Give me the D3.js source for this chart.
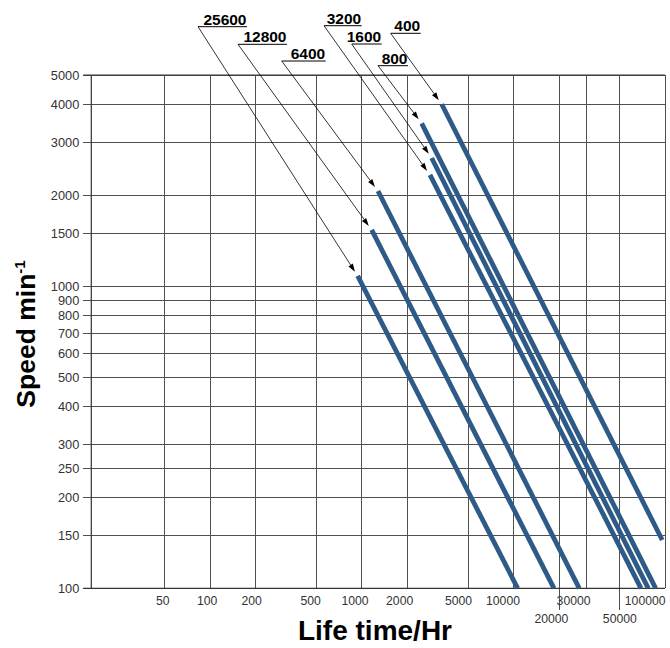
<!DOCTYPE html>
<html>
<head>
<meta charset="utf-8">
<script src="https://cdn.jsdelivr.net/npm/d3@7"></script>
<style>
  html, body { margin: 0; padding: 0; background: #fff; }
  svg { display: block; }
  text { font-family: "Liberation Sans", Arial, Helvetica, sans-serif; }
</style>
</head>
<body>
<script>
// ---------------- data ----------------
const loads      = ["400", "800", "1600", "3200", "6400", "12800", "25600"];
const lifeStart  = [3380, 2494, 2902, 2828, 1285, 1168, 944];
const speedStart = [4000, 3460, 2657, 2334, 2066, 1535, 1081];
const lifeEnd    = [95900, 86850, 77600, 69470, 27240, 18560, 10700];
const speedEnd   = [144.5, 100, 100, 100, 100, 100, 100];

const xTicks      = [50, 100, 200, 500, 1000, 2000, 5000, 10000, 20000, 30000, 50000, 100000];
const xTickLabels = ["50", "100", "200", "500", "1000", "2000", "5000", "10000", "20000", "30000", "50000", "100000"];
const xLowRow     = [20000, 50000];
const yTicks      = [100, 150, 200, 250, 300, 400, 500, 600, 700, 800, 900, 1000, 1500, 2000, 3000, 4000, 5000];
const yTickLabels = ["100", "150", "200", "250", "300", "400", "500", "600", "700", "800", "900", "1000", "1500", "2000", "3000", "4000", "5000"];

const xTitle = "Life time/Hr";
const yTitle = "Speed min";
const yTitleSup = "-1";

// ---------------- layout ----------------
const W = 670, H = 648;
const plot = { left: 91.3, right: 665, top: 75, bottom: 588.3 };
// callout label placement (underline left/right, underline y)
const calloutLayout = {
  "25600": { x0: 198,   x1: 247,   y: 26.7 },
  "12800": { x0: 238,   x1: 287,   y: 44.3 },
  "6400":  { x0: 281.7, x1: 325.7, y: 61 },
  "3200":  { x0: 324,   x1: 361.7, y: 25.7 },
  "1600":  { x0: 351.7, x1: 381.7, y: 44 },
  "800":   { x0: 378,   x1: 408,   y: 65.7 },
  "400":   { x0: 390.7, x1: 420.7, y: 33.3 }
};
const lowRowShift = { 20000: -8, 50000: 0 };
const lineColor = "#2d5a87";
const gridColor = "#505050";

const svg = d3.select("body").append("svg")
  .attr("width", W).attr("height", H);

const x = d3.scaleLog().domain([16.6, 100000]).range([plot.left, plot.right]);
const y = d3.scaleLog().domain([100, 5000]).range([plot.bottom, plot.top]);
// label centres in the original sit on a slightly compressed log scale
const xLab = d3.scaleLog().domain([100, 10000]).range([206.7, 502.5]);

const pw = plot.right - plot.left, ph = plot.bottom - plot.top;

// ---------------- y axis + horizontal grid ----------------
const yAxis = d3.axisLeft(y)
  .tickValues(yTicks)
  .tickFormat((d, i) => yTickLabels[i])
  .tickSizeOuter(0)
  .tickSizeInner(8)
  .tickPadding(4);

const gy = svg.append("g")
  .attr("transform", `translate(${plot.left},0)`)
  .call(yAxis);
gy.select(".domain").remove();
gy.selectAll(".tick line")
  .attr("x1", -8).attr("x2", pw)
  .attr("stroke", gridColor).attr("stroke-width", 1)
  .attr("shape-rendering", "crispEdges");
gy.selectAll(".tick text")
  .attr("font-size", 12.8).attr("fill", "#333")
  .attr("font-family", "'Liberation Sans', Arial, sans-serif");

// ---------------- x axis + vertical grid ----------------
const xAxis = d3.axisBottom(x)
  .tickValues(xTicks)
  .tickFormat((d, i) => xTickLabels[i])
  .tickSizeOuter(0)
  .tickSizeInner(0);

const gx = svg.append("g")
  .attr("transform", `translate(0,${plot.bottom})`)
  .call(xAxis);
gx.select(".domain").remove();
gx.selectAll(".tick line")
  .attr("y1", d => xLowRow.includes(d) ? 22 : 0)
  .attr("y2", -ph)
  .attr("stroke", gridColor).attr("stroke-width", 1)
  .attr("shape-rendering", "crispEdges");
gx.selectAll(".tick text")
  .attr("font-size", 12.2).attr("fill", "#333")
  .attr("font-family", "'Liberation Sans', Arial, sans-serif")
  .attr("dy", null)
  .attr("text-anchor", d => d === 100000 ? "end" : "middle")
  .attr("x", d => d === 100000 ? 0 : (xLowRow.includes(d) ? lowRowShift[d] : xLab(d) - x(d)))
  .attr("y", d => xLowRow.includes(d) ? 35 : 16.5);

// frame: left axis line, baseline, top line
svg.append("line")
  .attr("x1", plot.left).attr("x2", plot.left)
  .attr("y1", plot.top).attr("y2", plot.bottom)
  .attr("stroke", "#333").attr("stroke-width", 1.2);
svg.append("line")
  .attr("x1", plot.left - 8).attr("x2", plot.right)
  .attr("y1", plot.bottom).attr("y2", plot.bottom)
  .attr("stroke", "#333").attr("stroke-width", 1.2);
svg.append("line")
  .attr("x1", plot.left - 8).attr("x2", plot.right)
  .attr("y1", plot.top).attr("y2", plot.top)
  .attr("stroke", "#333").attr("stroke-width", 1.2);

// ---------------- data lines ----------------
const seriesData = loads.map((l, i) => ({
  load: l,
  pts: [[lifeStart[i], speedStart[i]], [lifeEnd[i], speedEnd[i]]]
}));
const lineGen = d3.line().x(d => x(d[0])).y(d => y(d[1]));

svg.append("g").selectAll("path")
  .data(seriesData).join("path")
  .attr("d", d => lineGen(d.pts))
  .attr("fill", "none")
  .attr("stroke", lineColor)
  .attr("stroke-width", 4.8)
  .attr("stroke-linecap", "butt");

// ---------------- callouts ----------------
const cg = svg.append("g");
seriesData.forEach(d => {
  const L = calloutLayout[d.load];
  const tx = x(d.pts[0][0]), ty = y(d.pts[0][1]);
  const dx = tx - L.x0, dy = ty - L.y;
  const len = Math.hypot(dx, dy);
  const ux = dx / len, uy = dy / len;
  const tipX = tx - ux * 5, tipY = ty - uy * 5;
  const ah = 8, aw = 2.6;
  const bx = tipX - ux * ah, by = tipY - uy * ah;
  cg.append("line")
    .attr("x1", L.x0).attr("x2", L.x1).attr("y1", L.y).attr("y2", L.y)
    .attr("stroke", "#000").attr("stroke-width", 1);
  cg.append("text")
    .attr("x", L.x1 - 0.5).attr("y", L.y - 2.2)
    .attr("text-anchor", "end")
    .attr("font-size", 15.5).attr("font-weight", "bold")
    .attr("fill", "#000")
    .text(d.load);
  cg.append("line")
    .attr("x1", L.x0).attr("y1", L.y)
    .attr("x2", bx).attr("y2", by)
    .attr("stroke", "#000").attr("stroke-width", 0.8);
  cg.append("path")
    .attr("d", `M${tipX},${tipY}L${bx - uy * aw},${by + ux * aw}L${bx + uy * aw},${by - ux * aw}Z`)
    .attr("fill", "#000");
});

// ---------------- titles ----------------
svg.append("text")
  .attr("x", 375).attr("y", 640)
  .attr("text-anchor", "middle")
  .attr("font-size", 28).attr("font-weight", "bold").attr("fill", "#000")
  .text(xTitle);

const yt = svg.append("text")
  .attr("transform", "translate(35,334) rotate(-90)")
  .attr("text-anchor", "middle")
  .attr("font-size", 26.5).attr("font-weight", "bold").attr("fill", "#000");
yt.append("tspan").text(yTitle);
yt.append("tspan").attr("dy", -10).attr("font-size", 15).text(yTitleSup);
</script>
</body>
</html>
